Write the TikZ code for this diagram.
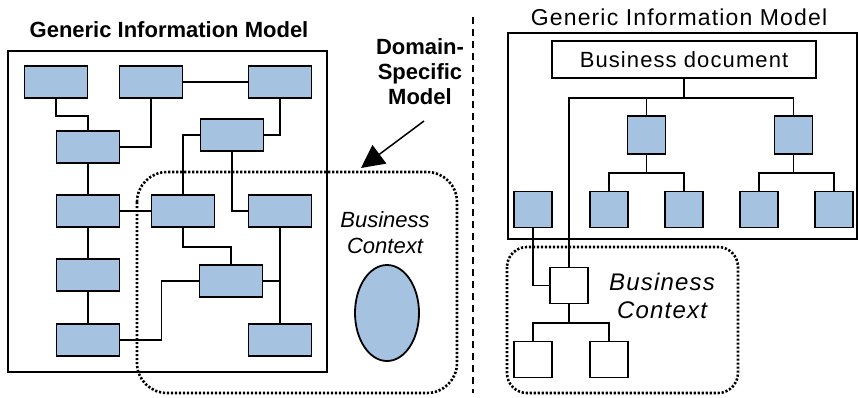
\documentclass[tikz,border=0pt]{standalone}
\usepackage{fontspec}
\setmainfont{Liberation Sans}
\newfontfamily\widefont[LetterSpace=5]{Liberation Sans}
\usepackage{xcolor}
\usepackage{tikz}
\usetikzlibrary{shapes.geometric,arrows.meta}

\definecolor{boxblue}{RGB}{165,194,224}

\begin{document}
\begin{tikzpicture}[x=1pt, y=-1pt,
    blk/.style={draw, fill=boxblue, line width=1.8pt, inner sep=0pt, minimum width=63pt, minimum height=32pt},
    sq/.style={draw, fill=boxblue, line width=1.8pt, inner sep=0pt, minimum width=38pt, minimum height=36pt},
    wsq/.style={sq, fill=white},
    link/.style={line width=1.4pt},
    dots/.style={line width=2.6pt, dash pattern=on 2.2pt off 1.8pt},
    heading/.style={font=\fontsize{22}{25}\selectfont\bfseries}]
    \useasboundingbox (0,0) rectangle (858,398);

    % left side
    \node[heading] (gim) at (169,30) {Generic Information Model};
    \draw[line width=1.5pt] (8,51) rectangle (327,372);
    \node[blk] (b1) at (56,82) {};
    \node[blk] (b2) at (151,82) {};
    \node[blk] (b3) at (280,82) {};
    \node[blk] (b4) at (88,147) {};
    \node[blk] (b5) at (232,135) {};
    \node[blk] (b6) at (88,211) {};
    \node[blk] (b7) at (183,211) {};
    \node[blk] (b8) at (280,211) {};
    \node[blk] (b9) at (88,275) {};
    \node[blk] (b10) at (231,281) {};
    \node[blk] (b11) at (88,340) {};
    \node[blk] (b12) at (280,340) {};

    \draw[link] (b1.south) -- ++(0,17) -| (b4.north);
    \draw[link] (b2.south) |- (b4.east);
    \draw[link] (b2.east) -- (b3.west);
    \draw[link] (b3.south) |- (b5.east);
    \draw[link] (b5.west) -| (b7.north);
    \draw[link] (b5.south) |- (b8.west);
    \draw[link] (b4.south) -- (b6.north);
    \draw[link] (b6.south) -- (b9.north);
    \draw[link] (b9.south) -- (b11.north);
    \draw[link] (b6.east) -- (b7.west);
    \draw[link] (b7.south) -- ++(0,19) -| (b10.north);
    \draw[link] (b8.south) -- (b12.north);
    \draw[link] (b10.east) -- (b10.east -| b8.south);
    \draw[link] (b11.east) -- ++(41,0) |- (b10.west);

    \node[font=\fontsize{22}{26}\selectfont\itshape, align=center] (ctx) at (385,233) {Business\\Context};
    \node[ellipse, draw, fill=boxblue, line width=1.8pt, minimum width=64pt, minimum height=96pt] (oval) at (387,313) {};
    \draw[dots, rounded corners=30pt] (137,172) rectangle (457,393);

    \node[heading, align=center] (dsm) at (420,72) {Domain-\\Specific\\Model};
    \coordinate (tail) at (424,121);
    \coordinate (tip) at (361,168);
    \draw[line width=1.5pt, -{Triangle[length=23pt,width=23pt]}] (tail) -- (tip);

    \draw[line width=1.2pt, dash pattern=on 7pt off 5pt] (473,17) -- (473,393);

    % right side
    \node[font=\fontsize{23}{26}\selectfont\widefont] (gim2) at (679,17) {Generic Information Model};
    \draw[line width=1.8pt] (508,33) rectangle (857,239);
    \node[draw, fill=white, line width=1.8pt, minimum width=264pt, minimum height=37pt, inner sep=0pt,
          font=\fontsize{22}{25}\selectfont\widefont] (bdoc) at (684,59.5) {Business document};
    \node[sq, minimum height=38pt] (m1) at (646.5,135) {};
    \node[sq, minimum height=38pt] (m2) at (793.5,135) {};
    \node[sq] (l1) at (533,209.5) {};
    \node[sq] (l2) at (609,209.5) {};
    \node[sq] (l3) at (684,209.5) {};
    \node[sq] (l4) at (759,209.5) {};
    \node[sq] (l5) at (834,209.5) {};
    \node[wsq] (w) at (569,285.5) {};
    \node[wsq] (w1) at (533,359.5) {};
    \node[wsq] (w2) at (609,359.5) {};

    \draw[link] (bdoc.south) -- ++(0,19) coordinate (bus);
    \draw[link] (w.north) |- (bus) -| (m2.north);
    \draw[link] (m1.north) -- (m1.north |- bus);
    \draw[link] (m1.south) -- ++(0,18) coordinate (j1);
    \draw[link] (l2.north) |- (j1) -| (l3.north);
    \draw[link] (m2.south) -- ++(0,18) coordinate (j2);
    \draw[link] (l4.north) |- (j2) -| (l5.north);
    \draw[link] (l1.south) |- (w.west);
    \draw[link] (w.south) -- ++(0,18.5) coordinate (j3);
    \draw[link] (w1.north) |- (j3) -| (w2.north);

    \node[font=\fontsize{24}{28}\selectfont\itshape\widefont, align=center] (ctx2) at (662,296) {Business\\Context};
    \draw[dots, rounded corners=20pt] (507,247) rectangle (738,393);
\end{tikzpicture}
\end{document}
